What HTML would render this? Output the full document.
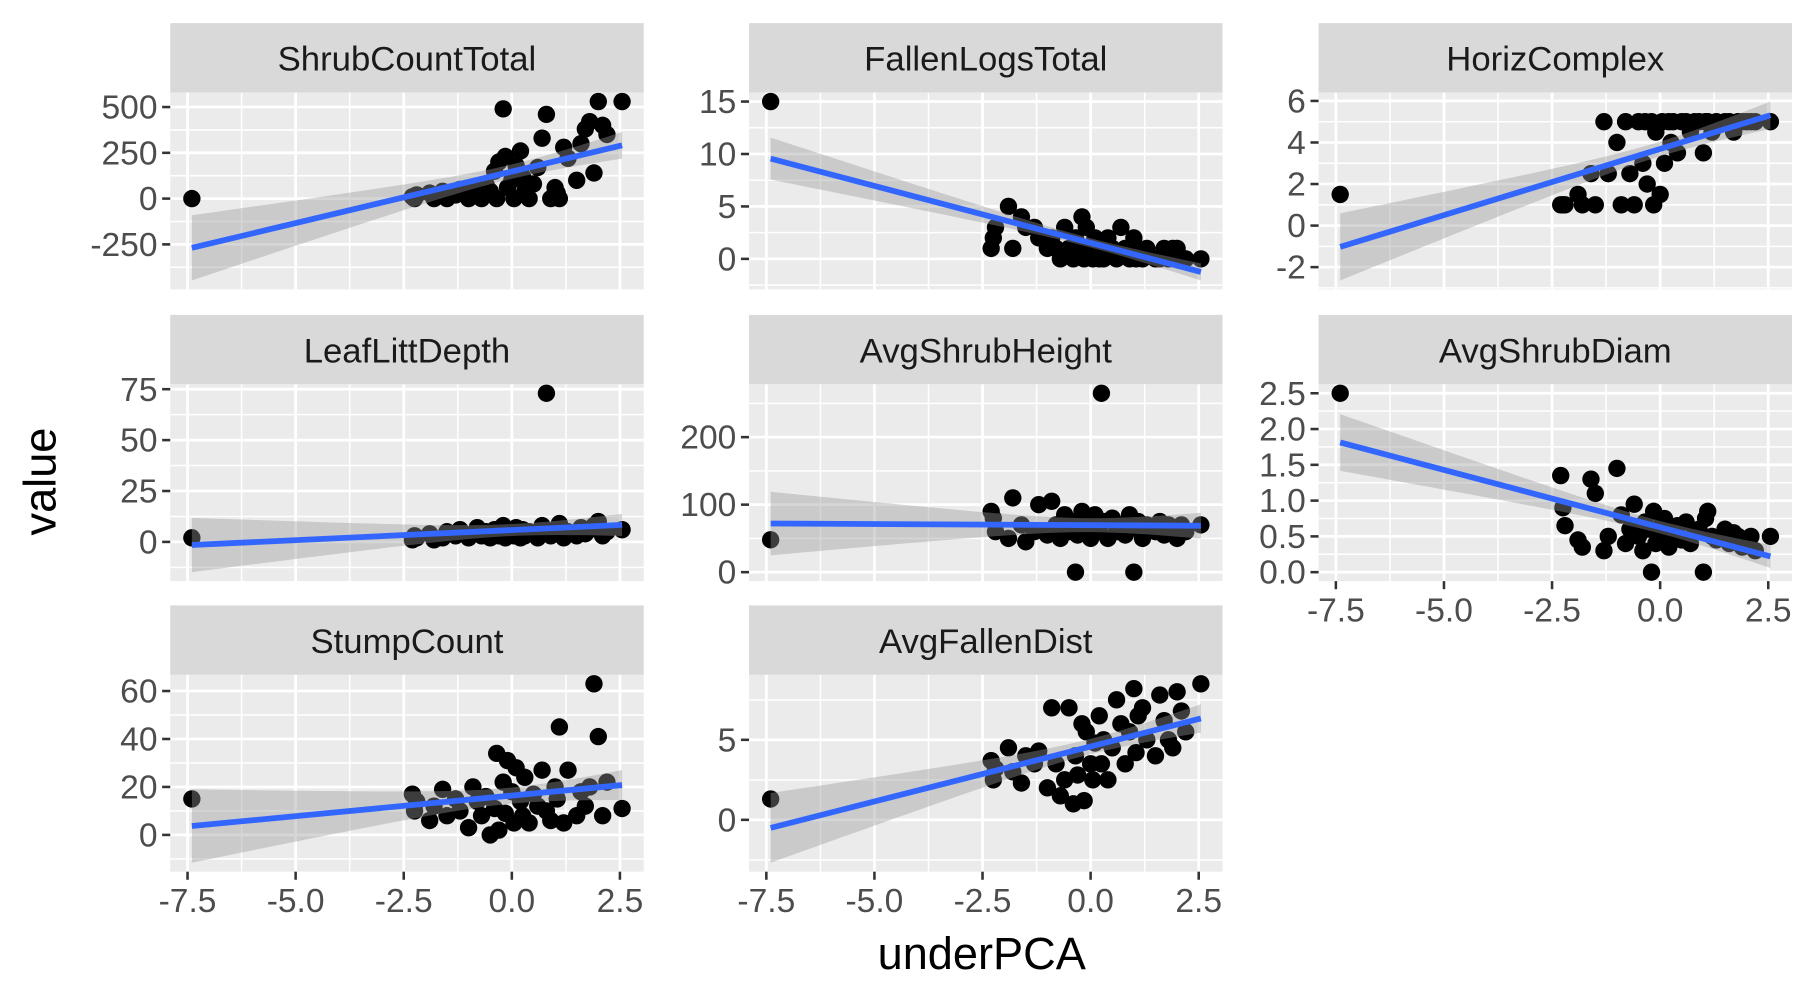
<!DOCTYPE html>
<html><head><meta charset="utf-8"><style>
html,body{margin:0;padding:0;background:#fff;}
svg{display:block;}
text{font-family:"Liberation Sans",Arial,sans-serif;}
</style></head><body>
<svg id="chart" width="1806" height="999" viewBox="0 0 1560 863" xmlns="http://www.w3.org/2000/svg">
<text x="848" y="837" font-size="39" text-anchor="middle" fill="#000">underPCA</text>
<text transform="translate(48,416) rotate(-90)" font-size="39" text-anchor="middle" fill="#000">value</text>
</svg>
<script>
const panelNames = ["ShrubCountTotal","FallenLogsTotal","HorizComplex","LeafLittDepth","AvgShrubHeight","AvgShrubDiam","StumpCount","AvgFallenDist"];
const xValues = [-7.4,-2.3,-2.25,-2.2,-1.9,-1.8,-1.6,-1.5,-1.3,-1.2,-1.0,-0.9,-0.8,-0.7,-0.6,-0.5,-0.4,-0.35,-0.3,-0.2,-0.15,-0.1,0.0,0.05,0.1,0.2,0.25,0.3,0.4,0.5,0.6,0.7,0.8,0.9,1.0,1.05,1.1,1.2,1.3,1.5,1.6,1.7,1.8,1.9,2.0,2.1,2.2,2.55];
const shrubCount = [0,10,0,20,30,0,40,0,20,50,0,60,30,0,80,40,150,0,200,490,230,60,100,0,180,260,120,40,0,80,170,330,460,0,60,30,0,280,220,100,300,380,420,140,530,400,350,530];
const fallenLogs = [15,1,2,3,5,1,4,3,3,2,1,2,1,0,3,1,0,2,1,4,0,3,1,0,2,0,1,0,2,1,0,3,1,0,2,0,1,0,1,0,0,1,0,1,1,0,0,0];
const horizComplex = [1.5,1,1,1,1.5,1,2.5,1,5,2.5,4,1,5,2.5,1,5,3,5,2,5,1,4.5,1.5,5,3,5,4,5,3.5,5,5,4.5,5,5,3.5,5,5,4.5,5,5,5,4.5,5,5,5,5,5,5];
const leafLitt = [2,1,3,2,4,1,2,5,3,6,2,4,7,3,5,2,6,4,3,8,2,5,4,3,7,2,6,3,5,4,2,8,73,3,6,4,9,2,5,3,7,4,6,8,10,3,5,6];
const shrubHeight = [48,90,80,60,50,110,70,45,60,100,55,105,70,50,85,60,75,0,55,90,65,80,50,70,85,60,265,75,50,80,60,70,55,85,0,65,75,50,70,60,75,55,70,65,50,70,60,70];
const shrubDiam = [2.5,1.35,0.9,0.65,0.45,0.35,1.3,1.1,0.3,0.5,1.45,0.8,0.4,0.6,0.95,0.5,0.3,0.7,0.6,0.0,0.85,0.4,0.5,0.7,0.75,0.35,0.6,0.5,0.65,0.45,0.7,0.4,0.55,0.6,0.0,0.75,0.85,0.5,0.45,0.6,0.4,0.55,0.5,0.35,0.45,0.5,0.3,0.5];
const stumpCount = [15,17,10,14,6,12,19,8,15,10,3,20,14,8,16,0,11,34,2,22,9,31,18,5,28,14,8,24,5,17,12,27,10,6,20,15,45,5,27,8,18,12,20,63,41,8,22,11];
const fallenDist = [1.3,3.7,2.5,3.2,4.5,3.0,2.3,4.0,3.5,4.3,2.0,7.0,3.5,1.5,2.5,7.0,1.0,4.0,2.8,6.0,1.2,5.5,3.5,2.5,4.8,6.5,3.5,5.0,2.5,4.5,7.5,6.0,3.5,5.5,8.2,4.2,6.5,7.0,5.0,4.0,7.8,6.2,5.0,4.5,8.0,6.8,5.5,8.5];
const panelSeries = [shrubCount,fallenLogs,horizComplex,leafLitt,shrubHeight,shrubDiam,stumpCount,fallenDist];
const yTicks = [[-250,0,250,500],[0,5,10,15],[-2,0,2,4,6],[0,25,50,75],[0,100,200],[0,0.5,1,1.5,2,2.5],[0,20,40,60],[0,5]];
const yTickLabels = [["-250","0","250","500"],["0","5","10","15"],["-2","0","2","4","6"],["0","25","50","75"],["0","100","200"],["0.0","0.5","1.0","1.5","2.0","2.5"],["0","20","40","60"],["0","5"]];
const xTicks = [-7.5,-5,-2.5,0,2.5];
const xTickLabels = ["-7.5","-5.0","-2.5","0.0","2.5"];

const NS="http://www.w3.org/2000/svg";
const svg=document.getElementById('chart');
function mk(tag,attrs,parent){const e=document.createElementNS(NS,tag);for(const k in attrs)e.setAttribute(k,attrs[k]);(parent||svg).appendChild(e);return e;}
const colX=[147,647,1139], rowY=[20,272,523], PW=409, SH=60, PH=170;
const xDom=[-7.9,3.05];
function lmFit(x,y){const n=x.length;let mx=0,my=0;for(let i=0;i<n;i++){mx+=x[i];my+=y[i];}mx/=n;my/=n;let sxx=0,sxy=0;for(let i=0;i<n;i++){sxx+=(x[i]-mx)**2;sxy+=(x[i]-mx)*(y[i]-my);}const b=sxy/sxx,a=my-b*mx;let sse=0;for(let i=0;i<n;i++)sse+=(y[i]-a-b*x[i])**2;const s=Math.sqrt(sse/(n-2));return{a,b,mx,sxx,s,n};}
function yDomain(vals){let lo=Math.min(...vals),hi=Math.max(...vals);const f=lmFit(xValues,vals);const xs=[Math.min(...xValues),Math.max(...xValues)];for(const xv of xs){const se=f.s*Math.sqrt(1/f.n+(xv-f.mx)**2/f.sxx);const yh=f.a+f.b*xv;lo=Math.min(lo,yh-2.01*se);hi=Math.max(hi,yh+2.01*se);}const r=hi-lo;return[lo-0.05*r,hi+0.05*r];}

panelNames.forEach((name,p)=>{
  const c=p%3,r=Math.floor(p/3);
  const L=colX[c],T=rowY[r]+SH,B=T+PH,R=L+PW;
  const g=mk('g',{});
  
  
  const strip=mk('rect',{x:L,y:rowY[r],width:PW,height:SH,fill:'#D9D9D9'},g);
  
  
  const st=mk('text',{x:L+PW/2,y:rowY[r]+41,'font-size':30,'text-anchor':'middle',fill:'#1A1A1A'},g);
  st.textContent=name;
  
  
  const bg=mk('rect',{x:L,y:T,width:PW,height:PH,fill:'#EBEBEB'},g);
  
  
  const vals=panelSeries[p];
  const yd=yDomain(vals);
  const sx=v=>L+(v-xDom[0])/(xDom[1]-xDom[0])*PW;
  const sy=v=>B-(v-yd[0])/(yd[1]-yd[0])*PH;
  const tk=yTicks[p],step=tk[1]-tk[0];
  for(let v=tk[0]-step/2;v<=tk[tk.length-1]+step/2+1e-9;v+=step){if(v>yd[0]&&v<yd[1]){const ln=mk('line',{x1:L,x2:R,y1:sy(v),y2:sy(v),stroke:'#fff','stroke-width':1.3},g);}}
  for(let v=xTicks[0]-1.25;v<=xTicks[4]+1.26;v+=2.5){if(v>xDom[0]&&v<xDom[1]){const ln=mk('line',{x1:sx(v),x2:sx(v),y1:T,y2:B,stroke:'#fff','stroke-width':1.3},g);}}
  tk.forEach((v,i)=>{const ln=mk('line',{x1:L,x2:R,y1:sy(v),y2:sy(v),stroke:'#fff','stroke-width':2.4},g);
    const t=mk('line',{x1:L-7,x2:L,y1:sy(v),y2:sy(v),stroke:'#333','stroke-width':2.2},g);
    const lb=mk('text',{x:L-11,y:sy(v)+10,'font-size':29,'text-anchor':'end',fill:'#4D4D4D'},g);lb.textContent=yTickLabels[p][i];});
  const bottom=(r===2)||(p===5);
  xTicks.forEach((v,i)=>{const ln=mk('line',{x1:sx(v),x2:sx(v),y1:T,y2:B,stroke:'#fff','stroke-width':2.4},g);
    if(bottom){const t=mk('line',{x1:sx(v),x2:sx(v),y1:B,y2:B+7,stroke:'#333','stroke-width':2.2},g);
      const lb=mk('text',{x:sx(v),y:B+35,'font-size':29,'text-anchor':'middle',fill:'#4D4D4D'},g);lb.textContent=xTickLabels[i];}});
  xValues.forEach((xv,i)=>{const d=mk('circle',{cx:sx(xv),cy:sy(vals[i]),r:7.5,fill:'#000'},g);});
  const f=lmFit(xValues,vals);const x0=Math.min(...xValues),x1=Math.max(...xValues);
  let up=[],dn=[];for(let k=0;k<=40;k++){const xv=x0+(x1-x0)*k/40;const se=f.s*Math.sqrt(1/f.n+(xv-f.mx)**2/f.sxx);const yh=f.a+f.b*xv;up.push(sx(xv)+','+sy(yh+2.01*se));dn.unshift(sx(xv)+','+sy(yh-2.01*se));}
  const band=mk('polygon',{points:up.concat(dn).join(' '),fill:'#999999','fill-opacity':0.4},g);
  
  
  const fl=mk('line',{x1:sx(x0),y1:sy(f.a+f.b*x0),x2:sx(x1),y2:sy(f.a+f.b*x1),stroke:'#3366FF','stroke-width':5},g);
  
  
});
</script>
</body></html>
